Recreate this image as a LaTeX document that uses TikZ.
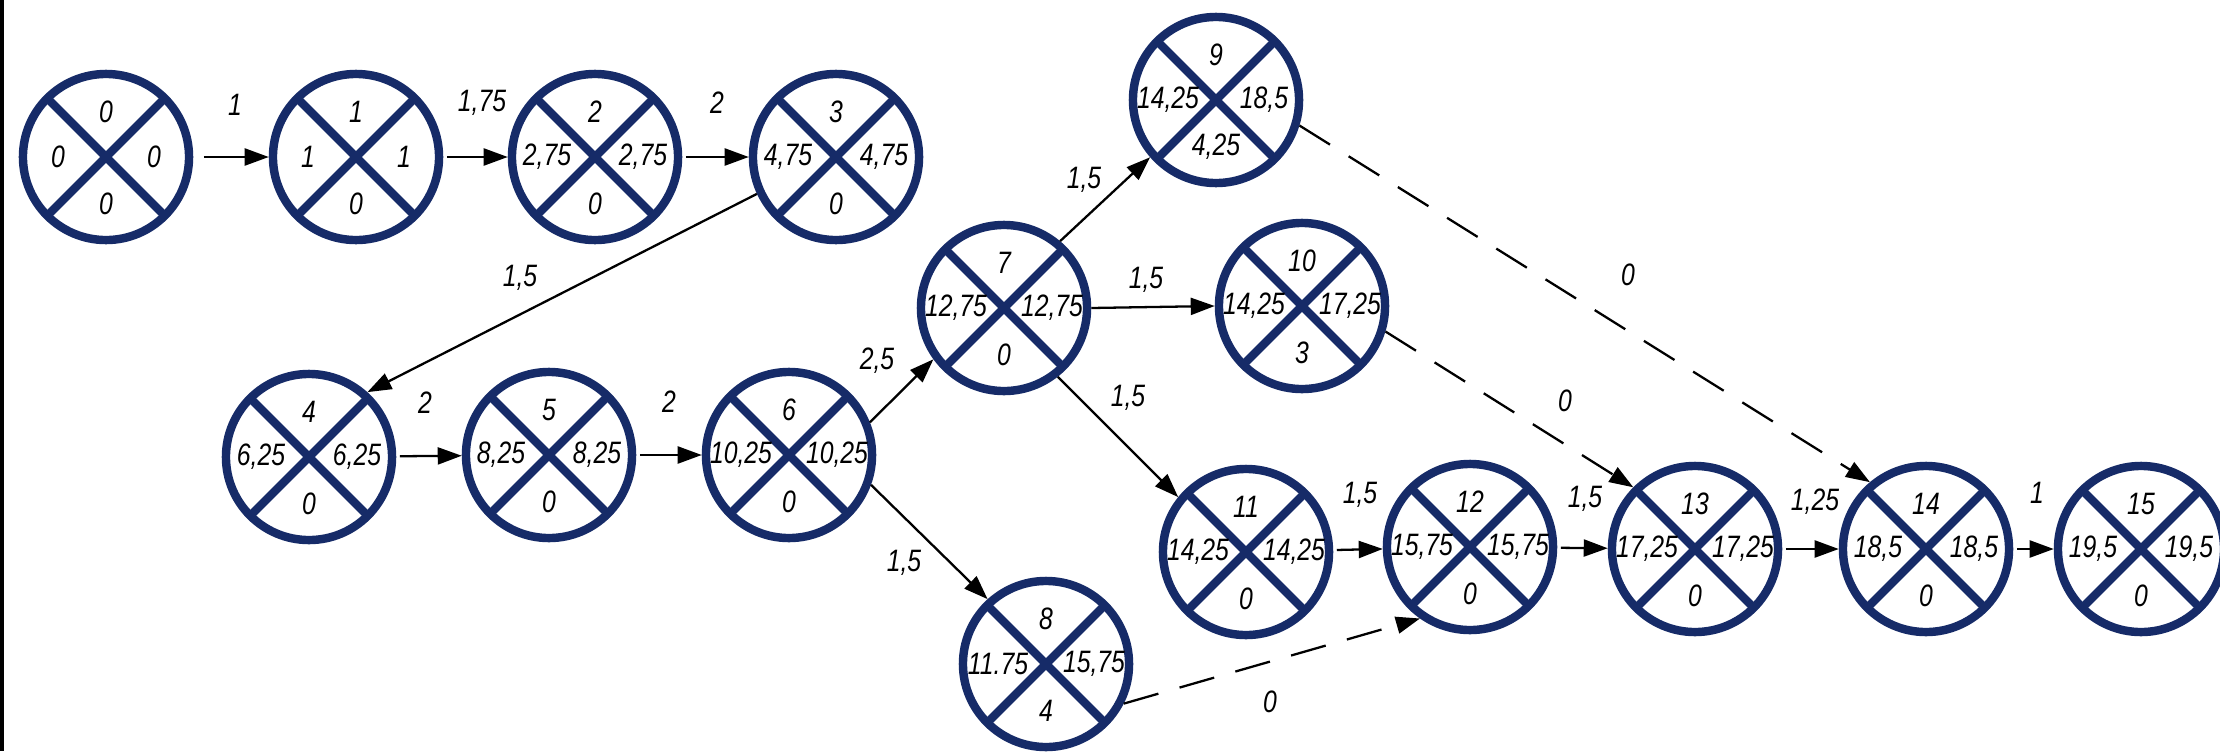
\documentclass[tikz,border=0pt]{standalone}
\usepackage{fontspec}
\setmainfont{Liberation Sans}[FakeStretch=0.8]
\usetikzlibrary{arrows.meta}
\definecolor{navy}{RGB}{22,43,104}
\tikzset{
  ev/.style={circle, draw=navy, line width=2.4pt, minimum size=1.66cm, inner sep=0pt},
  xl/.style={draw=navy, line width=2.4pt},
  num/.style={inner sep=0pt, font=\fontsize{8.8}{10}\selectfont\itshape},
  lab/.style={inner sep=0pt, font=\fontsize{8.8}{10}\selectfont\itshape},
  arr/.style={line width=0.65pt, -{Triangle[length=2.4mm,width=1.7mm]}},
  dsh/.style={arr, dash pattern=on 0.36cm off 0.22cm},
}
\newcommand\evt[7]{%
  \node[ev] (#1) at (#2,#3) {};
  \draw[xl] (#1.center) ++(45:0.83cm) -- ++(225:1.66cm);
  \draw[xl] (#1.center) ++(135:0.83cm) -- ++(-45:1.66cm);
  \node[num] (#1t) at ([yshift=4.5mm]#1.center) {#4};
  \node[num] (#1l) at ([xshift=-4.8mm]#1.center) {#5};
  \node[num] (#1r) at ([xshift=4.8mm]#1.center) {#6};
  \node[num] (#1b) at ([yshift=-4.7mm]#1.center) {#7};
}
\begin{document}
\begin{tikzpicture}[x=0.01cm,y=-0.01cm]
\fill[white] (0,0) rectangle (2220,751);
\path[use as bounding box] (0,0) rectangle (2220,751);
\fill[black] (0,0) rectangle (4,751);

\evt{n0}{106}{157}{0}{0}{0}{0}
\evt{n1}{356}{157}{1}{1}{1}{0}
\evt{n2}{595}{157}{2}{2,75}{2,75}{0}
\evt{n3}{836}{157}{3}{4,75}{4,75}{0}
\evt{n4}{309}{457}{4}{6,25}{6,25}{0}
\evt{n5}{549}{455}{5}{8,25}{8,25}{0}
\evt{n6}{789}{455}{6}{10,25}{10,25}{0}
\evt{n7}{1004}{308}{7}{12,75}{12,75}{0}
\evt{n8}{1046}{664}{8}{11.75}{15,75}{4}
\evt{n9}{1216}{100}{9}{14,25}{18,5}{4,25}
\evt{n10}{1302}{306}{10}{14,25}{17,25}{3}
\evt{n11}{1246}{552}{11}{14,25}{14,25}{0}
\evt{n12}{1470}{547}{12}{15,75}{15,75}{0}
\evt{n13}{1695}{549}{13}{17,25}{17,25}{0}
\evt{n14}{1926}{549}{14}{18,5}{18,5}{0}
\evt{n15}{2141}{549}{15}{19,5}{19,5}{0}

\draw[arr, shorten <=3pt] (n0) -- (n1);
\draw[arr, shorten <=1pt] (n1) -- (n2);
\draw[arr, shorten <=1pt] (n2) -- (n3);
\draw[arr] (n3.205.5) -- (n4.48);
\draw[arr, shorten <=1pt] (n4) -- (n5);
\draw[arr, shorten <=1pt] (n5) -- (n6);
\draw[arr] (n6.22) -- (n7.216);
\draw[arr] (n6.-20) -- (n8.132);
\draw[arr] (n7.50) -- (n9.221);
\draw[arr] (n7.east) -- (n10.west);
\draw[arr] (n7.-52) -- (n11.141);
\draw[dsh] (n9.-17) -- (n14.130);
\draw[dsh] (n10.-17) -- (n13.135);
\draw[dsh] (n8.-27) -- (n12.235);
\draw[arr, shorten <=1pt] (n11) -- (n12);
\draw[arr, shorten <=1pt] (n12) -- (n13);
\draw[arr, shorten <=1pt] (n13) -- (n14);
\draw[arr, shorten <=1pt] (n14) -- (n15);

\node[lab] (l01) at (235,105) {1};
\node[lab] (l12) at (482,103) {1,75};
\node[lab] (l23) at (717,103) {2};
\node[lab] (l34) at (520,278) {1,5};
\node[lab] (l45) at (425,403) {2};
\node[lab] (l56) at (669,402) {2};
\node[lab] (l67) at (877,361) {2,5};
\node[lab] (l79) at (1084,180) {1,5};
\node[lab] (l710) at (1146,280) {1,5};
\node[lab] (l711) at (1128,398) {1,5};
\node[lab] (l68) at (904,563) {1,5};
\node[lab] (l812) at (1270,702) {0};
\node[lab] (l1112) at (1360,495) {1,5};
\node[lab] (l1213) at (1585,499) {1,5};
\node[lab] (l1314) at (1815,502) {1,25};
\node[lab] (l1415) at (2037,493) {1};
\node[lab] (l1013) at (1565,401) {0};
\node[lab] (l914) at (1628,275) {0};
\end{tikzpicture}
\end{document}
